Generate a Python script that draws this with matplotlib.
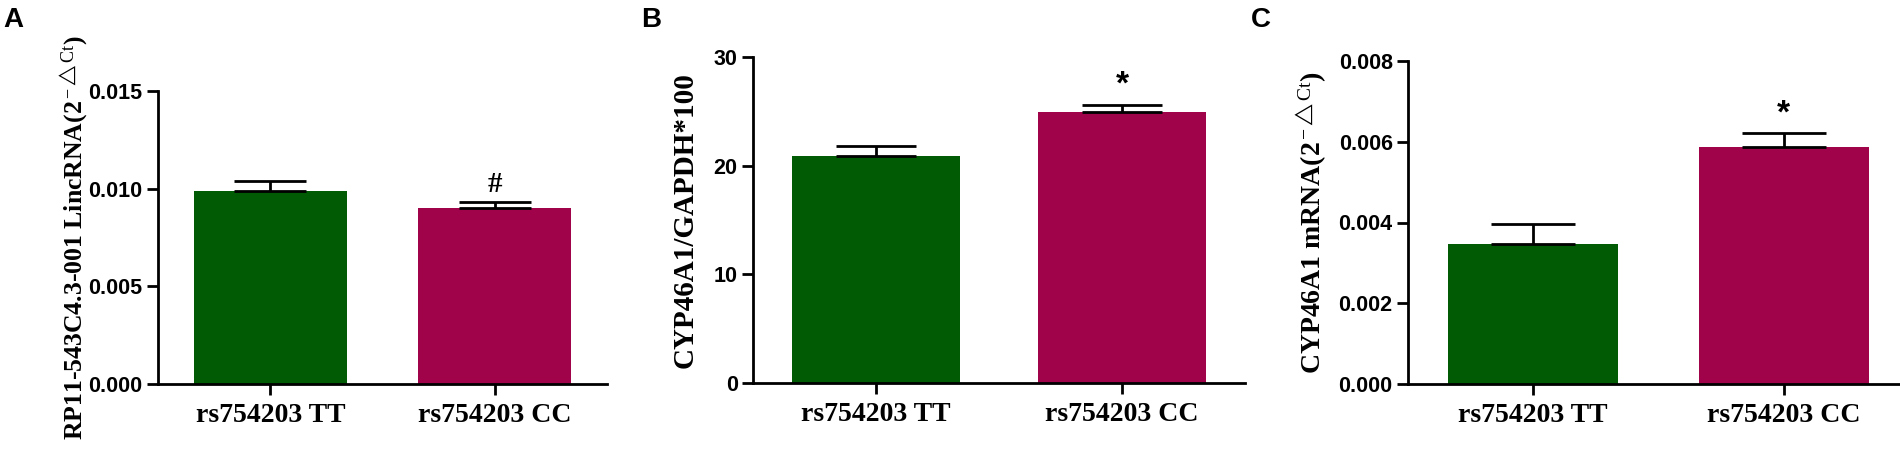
import matplotlib
matplotlib.use("Agg")
import matplotlib.pyplot as plt

plt.rcParams['mathtext.fontset'] = 'custom'
plt.rcParams['mathtext.rm'] = 'Liberation Serif'
plt.rcParams['mathtext.it'] = 'Liberation Serif'
plt.rcParams['mathtext.bf'] = 'Liberation Serif:bold'

# данные
groups = ['rs754203 TT', 'rs754203 CC']
colors = ['#015a04', '#a1034b']

lnc_mean = [0.0099, 0.0090]
lnc_err = [0.0005, 0.0003]

ratio_mean = [20.9, 24.9]
ratio_err = [0.9, 0.7]

mrna_mean = [0.00346, 0.00586]
mrna_err = [0.0005, 0.00035]

W, H = 1900, 454
fig = plt.figure(figsize=(W / 100, H / 100), dpi=100)

tick_font = dict(family=['Liberation Sans'], weight='bold', size=15.5)
serif_bold = dict(family=['Liberation Serif', 'DejaVu Serif'], weight='bold')


def make_axes(left, right, top, bottom):
    return fig.add_axes([left / W, 1 - bottom / H, (right - left) / W, (bottom - top) / H])


def draw_panel(ax, means, errs, ylim, yticks, ytick_labels, ylabel, label_size, label_x,
               cap, mark, mark_font):
    x = [0, 1]
    ax.bar(x, means, width=0.68, color=colors, zorder=2)
    ax.errorbar(x, means, yerr=[[0, 0], errs], fmt='none', ecolor='black',
                elinewidth=2, capsize=cap, capthick=2, zorder=3)
    ax.set_xlim(-0.5, 1.5)
    ax.set_ylim(*ylim)
    ax.set_yticks(yticks)
    ax.set_yticklabels(ytick_labels, **tick_font)
    ax.set_xticks(x)
    ax.set_xticklabels(groups, size=20, **serif_bold)
    for s in ['top', 'right']:
        ax.spines[s].set_visible(False)
    for s in ['left', 'bottom']:
        ax.spines[s].set_linewidth(2)
    ax.tick_params(axis='both', direction='out', length=8, width=2, pad=3)
    ax.tick_params(axis='x', pad=6)
    ax.set_ylabel(ylabel, size=label_size, va='center', **serif_bold)
    ax.yaxis.set_label_coords(label_x, 0.5)
    # отметка значимости над второй колонкой
    ax.annotate(mark, (1, means[1] + errs[1]), xytext=(0, 3), textcoords='offset points',
                ha='center', va='bottom', **mark_font)


sup = '$^{\\,{-}\\triangle Ct}$'

# A
axA = make_axes(158, 607, 91, 384)
draw_panel(axA, lnc_mean, lnc_err, (0, 0.015), [0, 0.005, 0.010, 0.015],
           ['0.000', '0.005', '0.010', '0.015'],
           'RP11-543C4.3-001 LincRNA(2' + sup + ')', 18.5, -84 / 449, 26,
           '#', dict(family=['Liberation Serif'], weight='bold', size=21))

# B
axB = make_axes(753, 1245, 57, 383)
draw_panel(axB, ratio_mean, ratio_err, (0, 30), [0, 10, 20, 30],
           ['0', '10', '20', '30'],
           'CYP46A1/GAPDH*100', 21, -68 / 492, 29,
           '*', dict(family=['Liberation Sans'], weight='bold', size=24))

# C
axC = make_axes(1408, 1909, 61, 384)
draw_panel(axC, mrna_mean, mrna_err, (0, 0.008), [0, 0.002, 0.004, 0.006, 0.008],
           ['0.000', '0.002', '0.004', '0.006', '0.008'],
           'CYP46A1 mRNA(2' + sup + ')', 20, -97 / 501, 30,
           '*', dict(family=['Liberation Sans'], weight='bold', size=24))

for letter, xpos in [('A', 3), ('B', 641), ('C', 1251)]:
    fig.text(xpos / W, 1 - 20 / H, letter, ha='left', va='center',
             family=['Liberation Sans'], weight='bold', size=20)

fig.savefig('out.png', dpi=100)
